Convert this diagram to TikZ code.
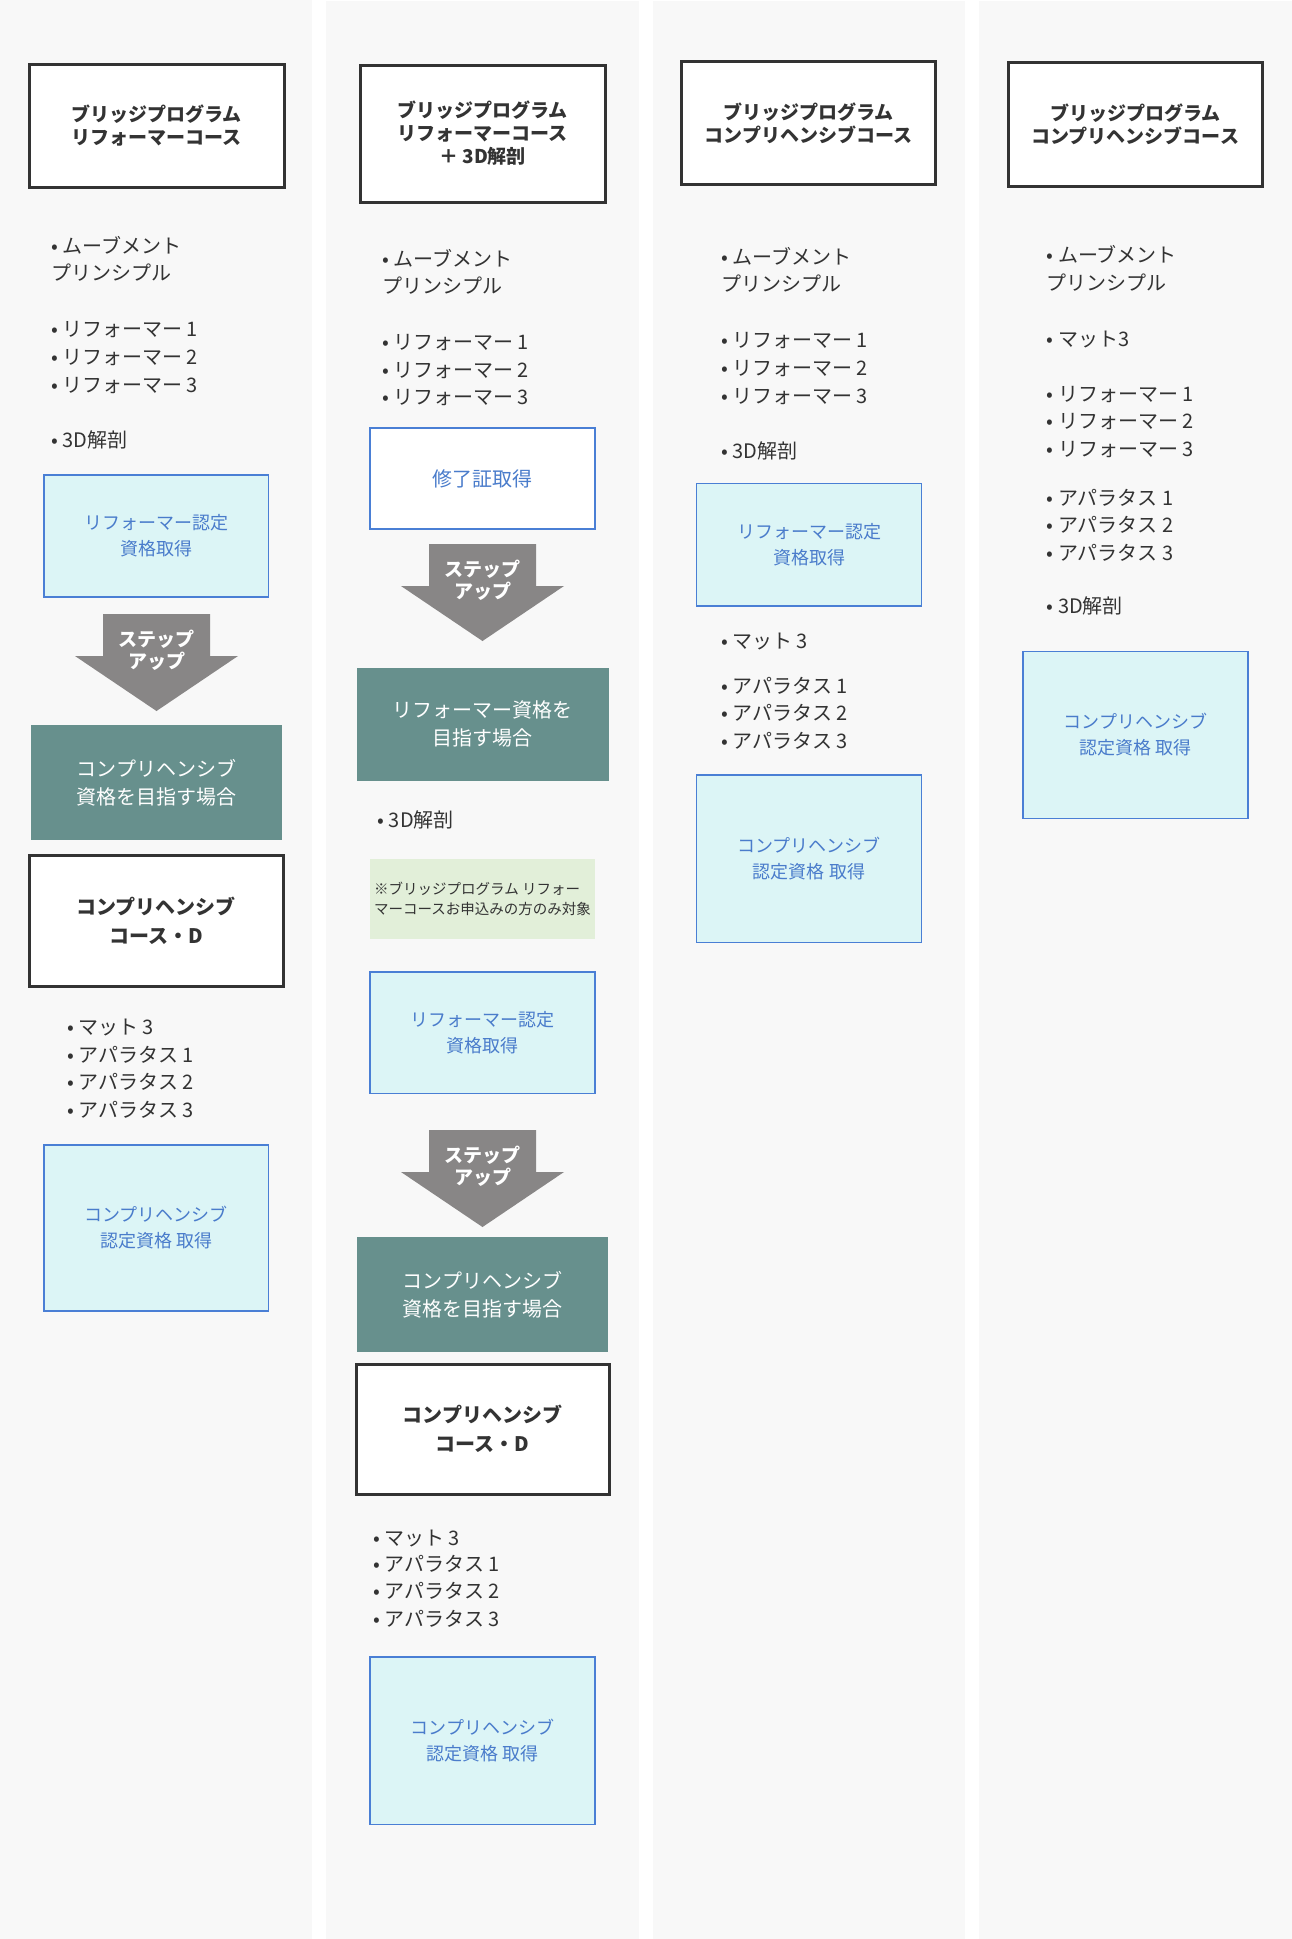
\documentclass[tikz,border=0pt]{standalone}
\usepackage{fontspec}
\setmainfont{Noto Sans CJK JP}
\definecolor{colbg}{HTML}{F8F8F8}
\definecolor{txt}{HTML}{333333}
\definecolor{hdrc}{HTML}{333333}
\definecolor{bluef}{HTML}{DCF5F6}
\definecolor{bluebd}{HTML}{4A7FD5}
\definecolor{bluet}{HTML}{4A7CCB}
\definecolor{tealc}{HTML}{67908D}
\definecolor{arrowc}{HTML}{888686}
\definecolor{notec}{HTML}{E2EFD9}
\newcommand\Lt[4]{\node[litem] (#1) at (#2,#3) {#4};}
\newcommand\Bx[7]{\node[#2, minimum width={(#5)-(#3)}, minimum height={(#6)-(#4)}] (#1) at ({((#3)+(#5))/2},{((#4)+(#6))/2}) {#7};}
\newcommand\StepArrow[3]{%
  \fill[arrowc] ({#2-53.5},#3) -- ({#2+53.5},#3) -- ({#2+53.5},{#3+42}) -- ({#2+81.5},{#3+42})
    -- (#2,{#3+97}) -- ({#2-81.5},{#3+42}) -- ({#2-53.5},{#3+42}) -- cycle;
  \node[steptxt] (#1) at (#2,{#3+36}) {ステップ\\アップ};}
\begin{document}
\begin{tikzpicture}[x=1pt,y=-1pt,
  hdr/.style={draw=hdrc, line width=3pt, fill=white, align=center, text=txt,
    font=\bfseries\fontsize{19}{23}\selectfont, inner sep=0pt},
  coursebox/.style={hdr, font=\bfseries\fontsize{20}{29}\selectfont},
  bluebox/.style={draw=bluebd, line width=1.5pt, fill=bluef, align=center, text=bluet,
    font=\fontsize{18}{26}\selectfont, inner sep=0pt},
  certbox/.style={bluebox, fill=white, font=\fontsize{20}{28}\selectfont},
  tealbox/.style={fill=tealc, text=white, align=center, font=\fontsize{20}{28}\selectfont, inner sep=0pt},
  notebox/.style={fill=notec, inner sep=0pt},
  notetxt/.style={anchor=west, align=left, inner sep=0pt, text=txt, font=\fontsize{14.5}{20}\selectfont},
  steptxt/.style={text=white, align=center, inner sep=0pt, font=\bfseries\fontsize{19}{22}\selectfont},
  litem/.style={anchor=west, inner sep=0pt, text height=17.6pt, text depth=2.4pt, text=txt,
    font=\fontsize{20}{28}\selectfont}]
\useasboundingbox (0,0) rectangle (1292,1939);
\fill[white] (0,0) rectangle (1292,1939);
\fill[colbg] (0,0) rectangle (312,1939);
\fill[colbg] (326,1) rectangle (639,1939);
\fill[colbg] (653,1) rectangle (965,1939);
\fill[colbg] (979,1) rectangle (1292,1939);
% ---------- column 1
\Bx{h1}{hdr}{29}{64}{284}{187}{ブリッジプログラム\\リフォーマーコース}
\Lt{a1}{51}{246}{• ムーブメント}
\Lt{a2}{51}{273}{プリンシプル}
\Lt{a3}{51}{329}{• リフォーマー 1}
\Lt{a4}{51}{357}{• リフォーマー 2}
\Lt{a5}{51}{385}{• リフォーマー 3}
\Lt{a6}{51}{440}{• 3D解剖}
\Bx{b1}{bluebox}{44}{475}{268.5}{597}{リフォーマー認定\\資格取得}
\StepArrow{s1}{156.5}{614}
\Bx{t1}{tealbox}{31}{725}{282}{840}{コンプリヘンシブ\\資格を目指す場合}
\Bx{d1}{coursebox}{29.5}{855}{283}{986}{コンプリヘンシブ\\コース・D}
\Lt{a7}{67}{1027}{• マット 3}
\Lt{a8}{67}{1054.5}{• アパラタス 1}
\Lt{a9}{67}{1082}{• アパラタス 2}
\Lt{a10}{67}{1109.6}{• アパラタス 3}
\Bx{b2}{bluebox}{44}{1145}{268.5}{1311}{コンプリヘンシブ\\認定資格 取得}
% ---------- column 2
\Bx{h2}{hdr}{360}{65}{605}{202}{ブリッジプログラム\\リフォーマーコース\\＋ 3D解剖}
\Lt{c1}{382}{259}{• ムーブメント}
\Lt{c2}{382}{285.5}{プリンシプル}
\Lt{c3}{382}{342}{• リフォーマー 1}
\Lt{c4}{382}{370}{• リフォーマー 2}
\Lt{c5}{382}{397}{• リフォーマー 3}
\Bx{cert}{certbox}{370}{428}{595}{529}{修了証取得}
\StepArrow{s2}{482.5}{544}
\Bx{t2}{tealbox}{356.5}{667.5}{609}{781}{リフォーマー資格を\\目指す場合}
\Lt{c6}{377.5}{819.5}{• 3D解剖}
\Bx{n1}{notebox}{370}{859}{595}{939}{}
\node[notetxt] (n1t) at (374,899) {※ブリッジプログラム リフォー\\マーコースお申込みの方のみ対象};
\Bx{b3}{bluebox}{370}{972}{595}{1093.6}{リフォーマー認定\\資格取得}
\StepArrow{s3}{482.5}{1130}
\Bx{t3}{tealbox}{357}{1237}{608}{1352}{コンプリヘンシブ\\資格を目指す場合}
\Bx{d2}{coursebox}{356}{1364}{609}{1494}{コンプリヘンシブ\\コース・D}
\Lt{c7}{373}{1538}{• マット 3}
\Lt{c8}{373}{1564}{• アパラタス 1}
\Lt{c9}{373}{1590.5}{• アパラタス 2}
\Lt{c10}{373}{1618.7}{• アパラタス 3}
\Bx{b4}{bluebox}{370}{1657}{595}{1824.5}{コンプリヘンシブ\\認定資格 取得}
% ---------- column 3
\Bx{h3}{hdr}{681.6}{61}{935.6}{184.6}{ブリッジプログラム\\コンプリヘンシブコース}
\Lt{e1}{721}{257}{• ムーブメント}
\Lt{e2}{721}{284}{プリンシプル}
\Lt{e3}{721}{340}{• リフォーマー 1}
\Lt{e4}{721}{367.7}{• リフォーマー 2}
\Lt{e5}{721}{395.4}{• リフォーマー 3}
\Lt{e6}{721}{450.8}{• 3D解剖}
\Bx{b5}{bluebox}{696.5}{483.6}{921.5}{606}{リフォーマー認定\\資格取得}
\Lt{e7}{721}{641}{• マット 3}
\Lt{e8}{721}{686}{• アパラタス 1}
\Lt{e9}{721}{713.3}{• アパラタス 2}
\Lt{e10}{721}{741}{• アパラタス 3}
\Bx{b6}{bluebox}{696.5}{775}{921.5}{942.3}{コンプリヘンシブ\\認定資格 取得}
% ---------- column 4
\Bx{h4}{hdr}{1008}{62.5}{1262.5}{186}{ブリッジプログラム\\コンプリヘンシブコース}
\Lt{f1}{1046.6}{255}{• ムーブメント}
\Lt{f2}{1046.6}{282.7}{プリンシプル}
\Lt{f3}{1046.6}{339}{• マット3}
\Lt{f4}{1046.6}{393.4}{• リフォーマー 1}
\Lt{f5}{1046.6}{421}{• リフォーマー 2}
\Lt{f6}{1046.6}{448.8}{• リフォーマー 3}
\Lt{f7}{1046.6}{497.4}{• アパラタス 1}
\Lt{f8}{1046.6}{525}{• アパラタス 2}
\Lt{f9}{1046.6}{552.8}{• アパラタス 3}
\Lt{f10}{1046.6}{605.8}{• 3D解剖}
\Bx{b7}{bluebox}{1023}{651.7}{1248}{818.3}{コンプリヘンシブ\\認定資格 取得}
\end{tikzpicture}
\end{document}
